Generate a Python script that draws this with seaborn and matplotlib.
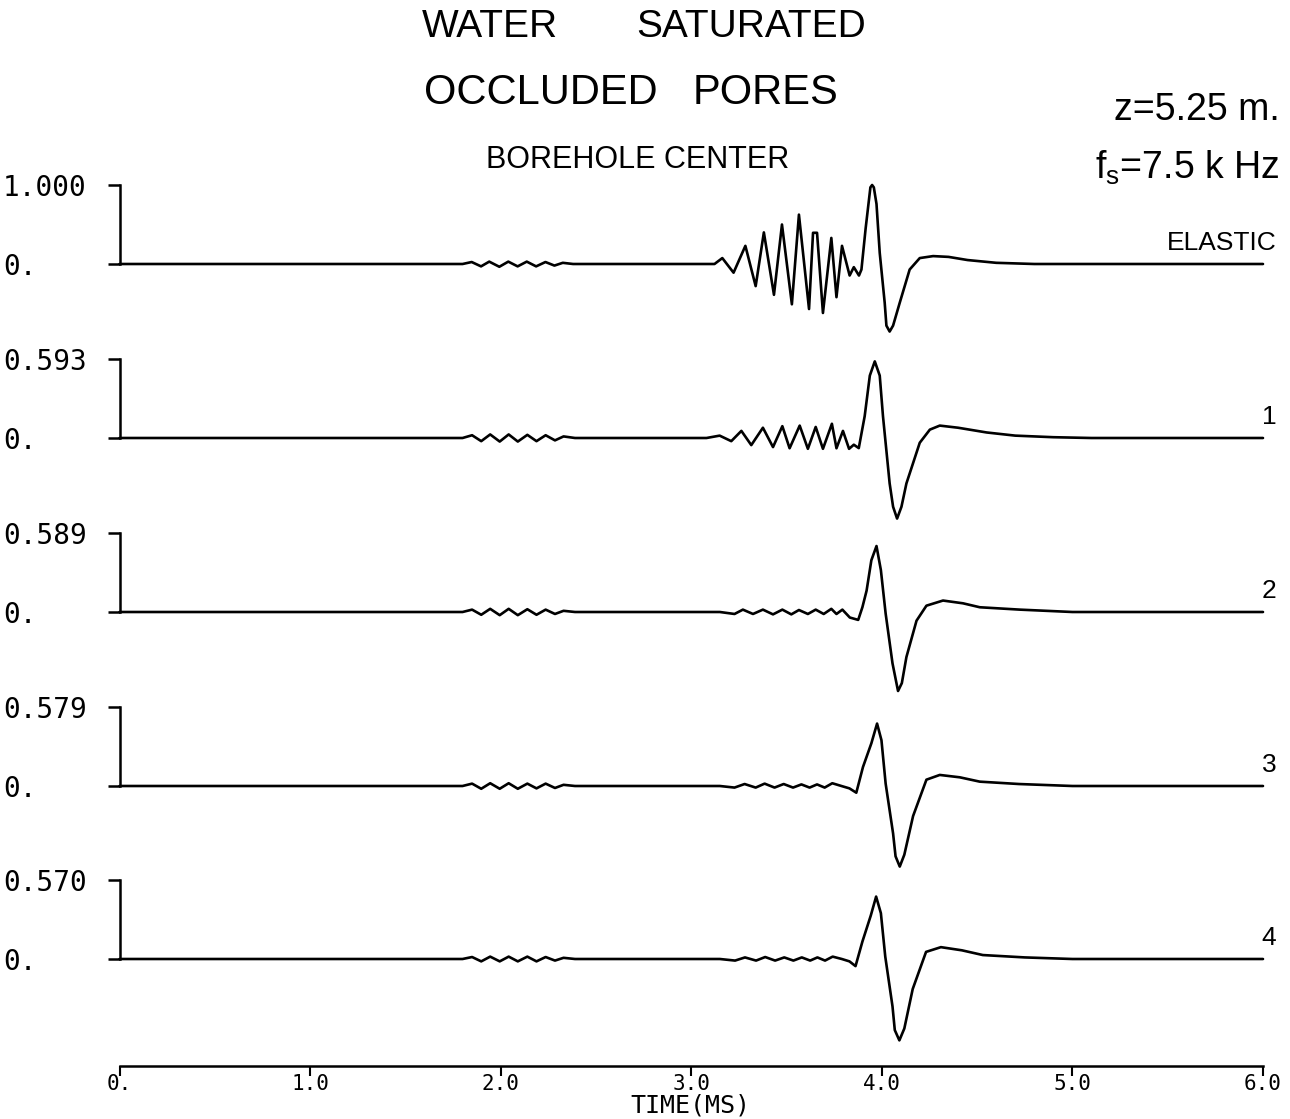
import numpy as np
import pandas as pd
import matplotlib
matplotlib.use("Agg")
import matplotlib.pyplot as plt
import seaborn as sns

sns.set_theme(style="white")
plt.rcParams['font.family'] = ['Liberation Sans', 'DejaVu Sans']
plt.rcParams['mathtext.default'] = 'regular'
plt.rcParams['text.color'] = 'black'

# =====================
# data (time in ms, amplitude relative to trace max)
# =====================
trace_names = ["ELASTIC", "1", "2", "3", "4"]
trace_max = [1.000, 0.593, 0.589, 0.579, 0.570]
time_ticks = [0, 1, 2, 3, 4, 5, 6]
time_tick_labels = ["0.", "1.0", "2.0", "3.0", "4.0", "5.0", "6.0"]

elastic_t = [0.0, 1.80, 1.848, 1.897, 1.940, 1.993, 2.040, 2.089, 2.137, 2.186, 2.235, 2.282, 2.326, 2.38,
             3.10, 3.122, 3.163, 3.222, 3.284, 3.338, 3.381, 3.434, 3.476, 3.528, 3.565, 3.618, 3.639, 3.660,
             3.691, 3.735, 3.762, 3.791, 3.831, 3.853, 3.880, 3.893, 3.915, 3.940, 3.949, 3.958, 3.972, 3.989,
             4.015, 4.024, 4.041, 4.059, 4.094, 4.146, 4.199, 4.269, 4.35, 4.45, 4.60, 4.80, 6.0]
elastic_v = [0, 0, 0.025, -0.03, 0.03, -0.035, 0.03, -0.03, 0.03, -0.03, 0.025, -0.02, 0.015, 0,
             0, 0, 0.075, -0.11, 0.23, -0.28, 0.40, -0.39, 0.50, -0.51, 0.625, -0.57, 0.395, 0.395,
             -0.62, 0.33, -0.42, 0.23, -0.146, -0.04, -0.146, -0.07, 0.45, 0.97, 1.0, 0.97, 0.76, 0.14,
             -0.49, -0.78, -0.855, -0.78, -0.49, -0.07, 0.075, 0.10, 0.09, 0.05, 0.015, 0, 0]

trace1_t = [0.0, 1.80, 1.850, 1.898, 1.945, 1.995, 2.042, 2.090, 2.140, 2.188, 2.236, 2.285, 2.330, 2.39,
            3.08, 3.149, 3.210, 3.263, 3.315, 3.376, 3.429, 3.478, 3.516, 3.569, 3.612, 3.653, 3.691, 3.738,
            3.762, 3.796, 3.828, 3.853, 3.879, 3.910, 3.937, 3.963, 3.989, 4.006, 4.041, 4.059, 4.080, 4.103,
            4.129, 4.199, 4.252, 4.304, 4.40, 4.55, 4.70, 4.90, 5.10, 6.0]
trace1_v = [0, 0, 0.035, -0.04, 0.045, -0.045, 0.045, -0.045, 0.04, -0.04, 0.035, -0.03, 0.02, 0,
            0, 0.03, -0.04, 0.09, -0.09, 0.13, -0.115, 0.15, -0.13, 0.157, -0.137, 0.14, -0.137, 0.18,
            -0.13, 0.09, -0.137, -0.085, -0.128, 0.276, 0.79, 0.97, 0.79, 0.276, -0.575, -0.87, -1.02, -0.87,
            -0.575, -0.06, 0.106, 0.157, 0.13, 0.07, 0.03, 0.01, 0, 0]

trace2_t = [0.0, 1.80, 1.850, 1.898, 1.945, 1.995, 2.042, 2.090, 2.140, 2.188, 2.236, 2.285, 2.330, 2.39,
            3.15, 3.227, 3.271, 3.324, 3.376, 3.429, 3.478, 3.525, 3.565, 3.612, 3.653, 3.695, 3.735, 3.762,
            3.793, 3.832, 3.876, 3.898, 3.920, 3.945, 3.972, 3.995, 4.020, 4.056, 4.085, 4.105, 4.129, 4.182,
            4.234, 4.321, 4.426, 4.514, 4.724, 5.0, 6.0]
trace2_v = [0, 0, 0.03, -0.035, 0.04, -0.04, 0.04, -0.04, 0.035, -0.035, 0.03, -0.025, 0.015, 0,
            0, -0.025, 0.03, -0.025, 0.03, -0.03, 0.03, -0.03, 0.025, -0.025, 0.03, -0.025, 0.04, -0.025,
            0.03, -0.07, -0.10, 0.06, 0.27, 0.655, 0.835, 0.53, -0.02, -0.65, -1.0, -0.90, -0.57, -0.11,
            0.08, 0.145, 0.11, 0.06, 0.03, 0, 0]

trace3_t = [0.0, 1.80, 1.850, 1.898, 1.945, 1.995, 2.042, 2.090, 2.140, 2.188, 2.236, 2.285, 2.330, 2.39,
            3.15, 3.227, 3.280, 3.338, 3.385, 3.437, 3.485, 3.534, 3.578, 3.621, 3.660, 3.700, 3.740, 3.788,
            3.830, 3.866, 3.901, 3.945, 3.975, 3.998, 4.020, 4.059, 4.072, 4.094, 4.118, 4.164, 4.234, 4.304,
            4.409, 4.514, 4.72, 5.0, 6.0]
trace3_v = [0, 0, 0.03, -0.035, 0.035, -0.035, 0.035, -0.035, 0.03, -0.03, 0.03, -0.025, 0.015, 0,
            0, -0.02, 0.025, -0.02, 0.03, -0.02, 0.025, -0.02, 0.02, -0.02, 0.02, -0.02, 0.035, 0.0,
            -0.03, -0.085, 0.24, 0.54, 0.79, 0.58, 0.03, -0.6, -0.89, -1.02, -0.87, -0.38, 0.08, 0.14,
            0.11, 0.055, 0.025, 0, 0]

trace4_t = [0.0, 1.80, 1.850, 1.898, 1.945, 1.995, 2.042, 2.090, 2.140, 2.188, 2.236, 2.285, 2.330, 2.39,
            3.15, 3.230, 3.282, 3.340, 3.388, 3.440, 3.488, 3.536, 3.580, 3.624, 3.662, 3.702, 3.742, 3.790,
            3.830, 3.862, 3.898, 3.942, 3.970, 3.995, 4.018, 4.056, 4.068, 4.092, 4.118, 4.162, 4.232, 4.310,
            4.420, 4.530, 4.75, 5.0, 6.0]
trace4_v = [0, 0, 0.025, -0.03, 0.03, -0.03, 0.03, -0.03, 0.03, -0.03, 0.025, -0.02, 0.015, 0,
            0, -0.02, 0.02, -0.02, 0.025, -0.02, 0.02, -0.02, 0.02, -0.02, 0.02, -0.02, 0.03, 0.0,
            -0.03, -0.09, 0.22, 0.55, 0.79, 0.58, 0.03, -0.6, -0.9, -1.03, -0.88, -0.38, 0.09, 0.15,
            0.11, 0.05, 0.02, 0, 0]

traces_t = [elastic_t, trace1_t, trace2_t, trace3_t, trace4_t]
traces_v = [elastic_v, trace1_v, trace2_v, trace3_v, trace4_v]

# =====================
# layout (pixels of the 1290 x 1119 canvas)
# =====================
W, H = 1290, 1119
left_px, right_px = 119.5, 1263
baselines_px = [264, 438, 612, 786, 959]
half_px = 79
mono = 'DejaVu Sans Mono'


def fx(px):
    return px / W


def fy(py):
    return 1 - py / H


fig = plt.figure(figsize=(W / 100, H / 100), dpi=100)
fig.patch.set_facecolor('white')

for name, amp, t, v, yb in zip(trace_names, trace_max, traces_t, traces_v, baselines_px):
    ax = fig.add_axes([fx(left_px), fy(yb + half_px), fx(right_px - left_px), 2 * half_px / H])
    ax.patch.set_alpha(0)
    df = pd.DataFrame({"time": t, "amp": np.array(v) * amp})
    sns.lineplot(data=df, x="time", y="amp", ax=ax, color='black', linewidth=1.9,
                 sort=False, estimator=None)
    for ln in ax.lines:
        ln.set_clip_on(False)
        ln.set_solid_joinstyle('round')
    ax.set_xlim(0, 6)
    ax.set_ylim(-amp, amp)
    ax.set_xlabel('')
    ax.set_ylabel('')
    for s in ['top', 'right', 'bottom']:
        ax.spines[s].set_visible(False)
    ax.spines['left'].set_bounds(0, amp)
    ax.spines['left'].set_color('black')
    ax.spines['left'].set_linewidth(1.8)
    ax.set_xticks([])
    ax.set_yticks([0, amp])
    ax.set_yticklabels(['0.', f'{amp:.3f}'])
    ax.tick_params(axis='y', direction='out', length=9, width=1.8, pad=75,
                   labelsize=20, colors='black', left=True)
    for lab in ax.get_yticklabels():
        lab.set_horizontalalignment('left')
        lab.set_family(mono)
    ax.text(6.07, 0.12 * amp, name, ha='right', va='bottom', fontsize=19, color='black')

# time axis at the bottom
axt = fig.add_axes([fx(left_px), fy(1066), fx(right_px - left_px), 0.0001])
axt.patch.set_alpha(0)
for s in ['top', 'right', 'left']:
    axt.spines[s].set_visible(False)
axt.spines['bottom'].set_color('black')
axt.spines['bottom'].set_linewidth(1.8)
axt.set_xlim(0, 6)
axt.set_yticks([])
axt.set_xticks(time_ticks)
axt.set_xticklabels(time_tick_labels)
axt.tick_params(axis='x', direction='out', length=7, width=1.5, pad=-1,
                labelsize=15, colors='black', bottom=True)
for lab in axt.get_xticklabels():
    lab.set_family(mono)
fig.text(fx(690), fy(1106), 'TIME(MS)', ha='center', va='center', fontsize=18, family=mono)

# titles
fig.text(fx(490), fy(27), 'WATER', ha='center', va='center', fontsize=28)
fig.text(fx(751), fy(27), 'SATURATED', ha='center', va='center', fontsize=28)
fig.text(fx(541), fy(93), 'OCCLUDED', ha='center', va='center', fontsize=30)
fig.text(fx(766), fy(93), 'PORES', ha='center', va='center', fontsize=30)
fig.text(fx(638), fy(160), 'BOREHOLE CENTER', ha='center', va='center', fontsize=22)
fig.text(fx(1280), fy(110), 'z=5.25 m.', ha='right', va='center', fontsize=27)
fig.text(fx(1280), fy(168), r'f$_{s}$=7.5 k Hz', ha='right', va='center', fontsize=27)

fig.savefig("out.png", dpi=100, facecolor='white')
